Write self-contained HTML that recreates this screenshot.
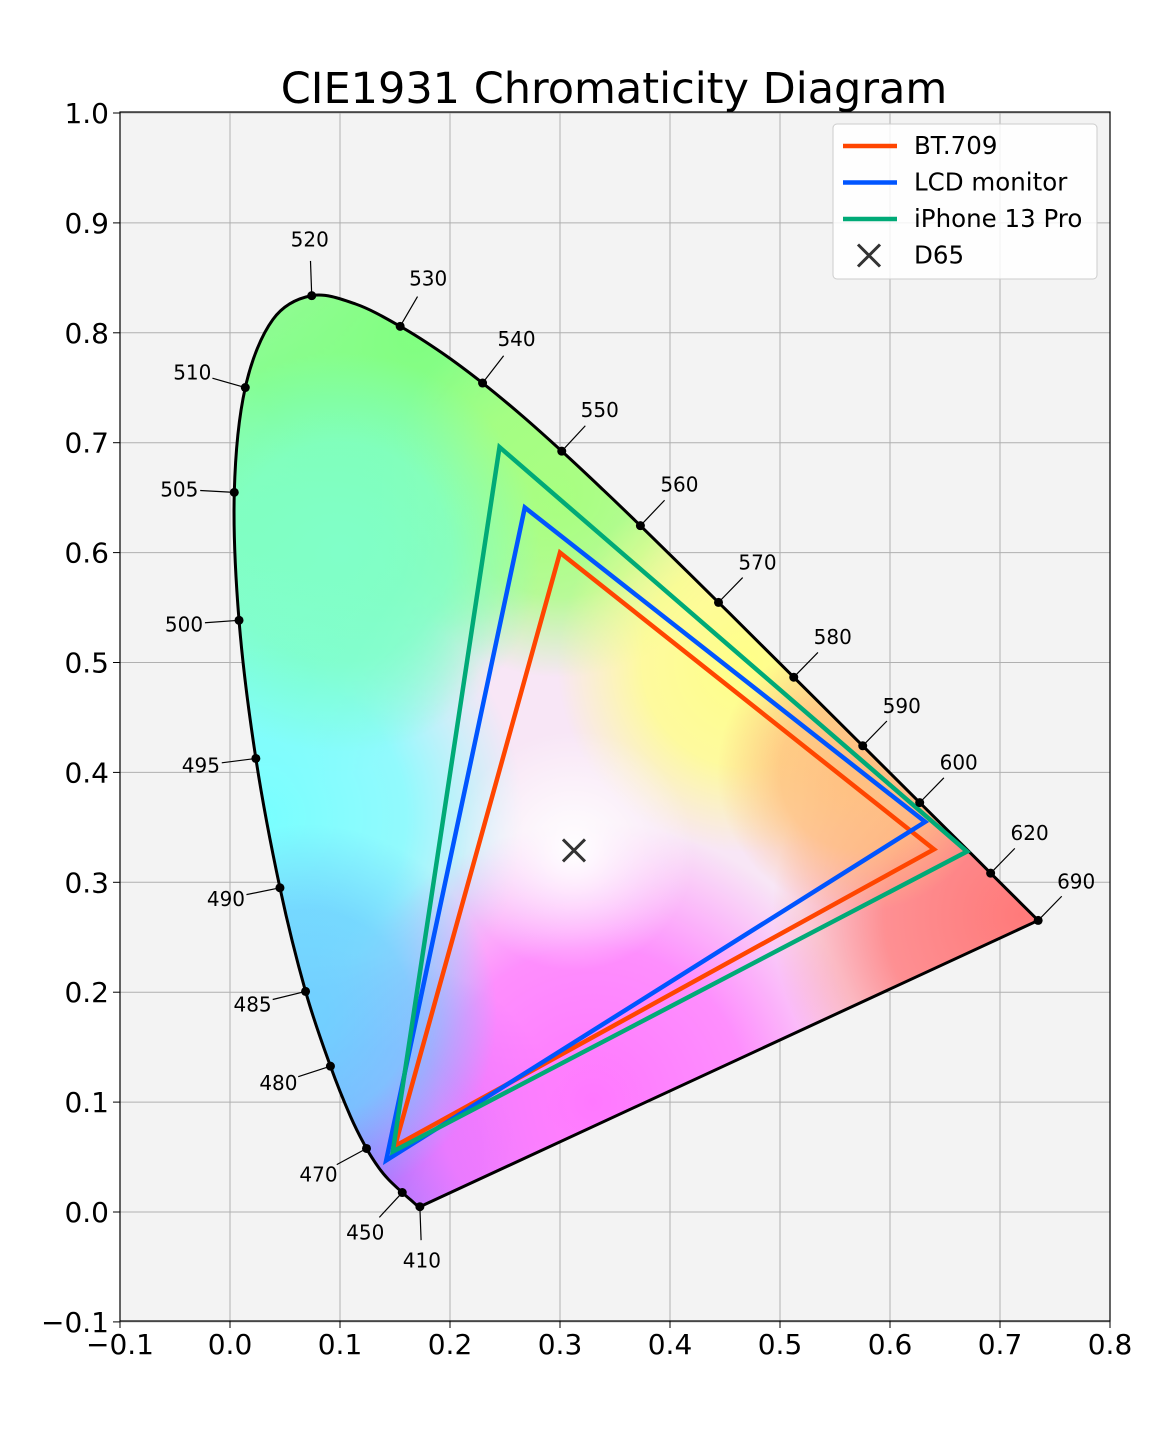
<!DOCTYPE html>
<html><head><meta charset="utf-8">
<style>
body{margin:0;background:#fff;}
svg{display:block;font-family:"DejaVu Sans","Liberation Sans",sans-serif;}
</style></head>
<body>
<svg id="chart" width="1170" height="1430" viewBox="0 0 1170 1430" xmlns="http://www.w3.org/2000/svg">
<defs>
  <clipPath id="locusClip"><path id="clipPath" d=""/></clipPath>
  <clipPath id="plotClip"><rect x="120" y="112" width="990" height="1209"/></clipPath>
</defs>
<rect x="120" y="112" width="990" height="1209" fill="#f3f3f3"/>
<g id="grid"></g>
<g id="fill" clip-path="url(#locusClip)"></g>
<g id="locus"></g>
<g id="gamuts" clip-path="url(#plotClip)"></g>
<g id="labels"></g>
<rect x="120" y="112" width="990" height="1209" fill="none" stroke="#000" stroke-width="1.2"/>
<g id="ticks"></g>
<text x="614" y="103" font-size="43" text-anchor="middle">CIE1931 Chromaticity Diagram</text>
<g id="legend"></g>
</svg>
<script>
const xTicks=[-0.1,0,0.1,0.2,0.3,0.4,0.5,0.6,0.7,0.8];
const yTicks=[-0.1,0,0.1,0.2,0.3,0.4,0.5,0.6,0.7,0.8,0.9,1.0];
const locusWl=[410,420,430,440,450,460,465,470,475,480,485,490,495,500,505,510,515,520,525,530,535,540,545,550,555,560,570,580,590,600,610,620,640,690];
const locusX=[0.1726,0.1714,0.1689,0.1644,0.1566,0.1440,0.1355,0.1241,0.1096,0.0913,0.0687,0.0454,0.0235,0.0082,0.0039,0.0139,0.0389,0.0743,0.1142,0.1547,0.1929,0.2296,0.2658,0.3016,0.3373,0.3731,0.4441,0.5125,0.5752,0.6270,0.6658,0.6915,0.7190,0.7347];
const locusY=[0.0048,0.0051,0.0069,0.0109,0.0177,0.0297,0.0399,0.0578,0.0868,0.1327,0.2007,0.2950,0.4127,0.5384,0.6548,0.7502,0.8120,0.8338,0.8262,0.8059,0.7816,0.7543,0.7243,0.6923,0.6589,0.6245,0.5547,0.4866,0.4242,0.3725,0.3340,0.3083,0.2809,0.2653];
const labeledWl=[410,450,470,480,485,490,495,500,505,510,520,530,540,550,560,570,580,590,600,620,690];
const labelDx=[2,-37,-48,-52,-53,-54,-55,-55,-55,-53,-2,28,34,38,39,39,39,39,39,39,38];
const labelDy=[54,40,26,17,13,11,7,4,-3,-15,-56,-48,-44,-41,-41,-40,-40,-40,-40,-40,-39];
const gamutNames=["BT.709","LCD monitor","iPhone 13 Pro"];
const gamutColors=["#ff4500","#0055ff","#00aa77"];
const gamutX=[[0.64,0.30,0.15],[0.632,0.268,0.142],[0.67,0.245,0.148]];
const gamutY=[[0.33,0.60,0.06],[0.355,0.641,0.047],[0.328,0.696,0.055]];
const whiteX=0.3127, whiteY=0.329;

const NS="http://www.w3.org/2000/svg";
const sx=v=>230+v*1100;
const sy=v=>1212-v*1099;
function mk(tag,attrs,parent){const e=document.createElementNS(NS,tag);for(const k in attrs)e.setAttribute(k,attrs[k]);parent.appendChild(e);return e;}
const G=id=>document.getElementById(id);

xTicks.forEach(t=>{
  const l=mk('line',{x1:sx(t),x2:sx(t),y1:112,y2:1321,stroke:'#b0b0b0','stroke-width':1},G('grid'));
  
  const tk=mk('line',{x1:sx(t),x2:sx(t),y1:1321,y2:1328,stroke:'#000'},G('ticks'));
  
  const tx=mk('text',{x:sx(t),y:1354,'font-size':28,'text-anchor':'middle'},G('ticks'));
  tx.textContent=(t<0?'\u22120.1':t.toFixed(1));
  
});
yTicks.forEach(t=>{
  const l=mk('line',{x1:120,x2:1110,y1:sy(t),y2:sy(t),stroke:'#b0b0b0','stroke-width':1},G('grid'));
  
  const tk=mk('line',{x1:113,x2:120,y1:sy(t),y2:sy(t),stroke:'#000'},G('ticks'));
  
  const tx=mk('text',{x:109,y:sy(t)+10,'font-size':28,'text-anchor':'end'},G('ticks'));
  tx.textContent=(t<0?'\u22120.1':t.toFixed(1));
  
});

const P=locusX.map((x,i)=>[sx(x),sy(locusY[i])]);
let d=`M${P[0][0]},${P[0][1]}`;
for(let i=0;i<P.length-1;i++){
  const p0=P[Math.max(0,i-1)],p1=P[i],p2=P[i+1],p3=P[Math.min(P.length-1,i+2)];
  const c1=[p1[0]+(p2[0]-p0[0])/6,p1[1]+(p2[1]-p0[1])/6];
  const c2=[p2[0]-(p3[0]-p1[0])/6,p2[1]-(p3[1]-p1[1])/6];
  d+=` C${c1[0]},${c1[1]} ${c2[0]},${c2[1]} ${p2[0]},${p2[1]}`;
}
d+=' Z';
G('clipPath').setAttribute('d',d);

const defs=document.querySelector('defs');
const blobs=[[0.03,0.62,'#80ffb8',260],[0.17,0.80,'#80ff80',300],[0.30,0.65,'#a8ff80',180],[0.03,0.36,'#78ffff',260],[0.10,0.60,'#80ffc8',200],[0.13,0.05,'#8070ff',200],[0.33,0.10,'#ff78ff',280],[0.72,0.27,'#ff7a7a',250],[0.47,0.50,'#ffff88',190],[0.57,0.40,'#ffc080',140],[0.07,0.18,'#70d0ff',190]];
mk('rect',{x:0,y:0,width:1170,height:1430,fill:'#f8e6f6'},G('fill'));
blobs.forEach((b,i)=>{
  const rg=mk('radialGradient',{id:'rg'+i,cx:sx(b[0]),cy:sy(b[1]),r:b[3],gradientUnits:'userSpaceOnUse'},defs);
  mk('stop',{offset:'0','stop-color':b[2],'stop-opacity':1},rg);
  mk('stop',{offset:'0.55','stop-color':b[2],'stop-opacity':0.8},rg);
  mk('stop',{offset:'1','stop-color':b[2],'stop-opacity':0},rg);
  const r=mk('rect',{x:0,y:0,width:1170,height:1430,fill:`url(#rg${i})`},G('fill'));
  
});
const wg=mk('radialGradient',{id:'wg',cx:sx(whiteX),cy:sy(whiteY),r:120,gradientUnits:'userSpaceOnUse'},defs);
mk('stop',{offset:'0','stop-color':'#ffffff','stop-opacity':1},wg);
mk('stop',{offset:'1','stop-color':'#ffffff','stop-opacity':0},wg);
mk('rect',{x:0,y:0,width:1170,height:1430,fill:'url(#wg)'},G('fill'));

const loc=mk('path',{d:d,fill:'none',stroke:'#000','stroke-width':3,'stroke-linejoin':'round'},G('locus'));


labeledWl.forEach((w,i)=>{
  const k=locusWl.indexOf(w);
  const px=sx(locusX[k]),py=sy(locusY[k]);
  const ln=mk('line',{x1:px,y1:py,x2:px+labelDx[i]*0.62,y2:py+labelDy[i]*0.62,stroke:'#000','stroke-width':1.2},G('labels'));
  
  const c=mk('circle',{cx:px,cy:py,r:4.5,fill:'#000'},G('labels'));
  
  const t=mk('text',{x:px+labelDx[i],y:py+labelDy[i]+7,'font-size':20,'text-anchor':'middle'},G('labels'));
  t.textContent=String(w);
  
});

gamutNames.forEach((n,i)=>{
  const pts=gamutX[i].map((x,j)=>sx(x)+','+sy(gamutY[i][j])).join(' ');
  const pg=mk('polygon',{points:pts,fill:'none',stroke:gamutColors[i],'stroke-width':4.5,'stroke-linejoin':'miter'},G('gamuts'));
  
  
});
const wx=sx(whiteX),wy=sy(whiteY);
const dm=mk('path',{d:`M${wx-11},${wy-11}L${wx+11},${wy+11}M${wx-11},${wy+11}L${wx+11},${wy-11}`,stroke:'#333','stroke-width':3},G('gamuts'));


const lg=G('legend');
const box=mk('rect',{x:833,y:124,width:264,height:155,rx:4,fill:'#fff','fill-opacity':0.85,stroke:'#ccc'},lg);

gamutNames.concat(['D65']).forEach((n,i)=>{
  const y=146+i*36.5;
  if(i<3){
    const l=mk('line',{x1:843,x2:897,y1:y,y2:y,stroke:gamutColors[i],'stroke-width':4.5},lg);
    
  } else {
    const m=mk('path',{d:`M858,${y-11}L880,${y+11}M858,${y+11}L880,${y-11}`,stroke:'#333','stroke-width':3},lg);
    
  }
  const t=mk('text',{x:914,y:y+8,'font-size':24.5},lg);
  t.textContent=n;
  
});
</script>
</body></html>
